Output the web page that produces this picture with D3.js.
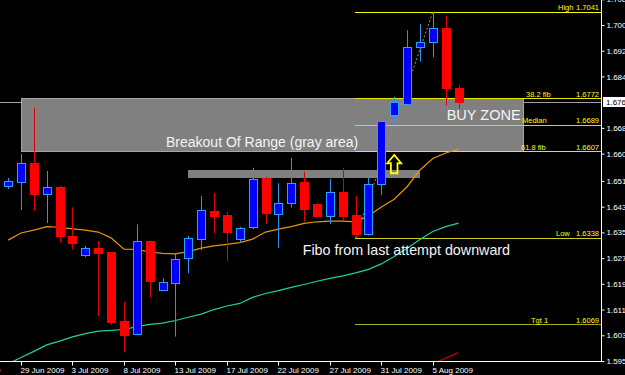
<!DOCTYPE html>
<html>
<head>
<meta charset="utf-8">
<script src="https://cdn.jsdelivr.net/npm/d3@7"></script>
<style>
body { margin: 0; background: #000; }
svg { display: block; }
text { font-family: "Liberation Sans", Arial, sans-serif; }
</style>
</head>
<body>
<svg id="chart" width="625" height="375"></svg>
<script>
// daily bars, broker feed with sunday bars
let dates = ["28 Jun","29 Jun","30 Jun","1 Jul","2 Jul","3 Jul","5 Jul","6 Jul","7 Jul","8 Jul",
    "9 Jul","10 Jul","12 Jul","13 Jul","14 Jul","15 Jul","16 Jul","17 Jul","19 Jul","20 Jul",
    "21 Jul","22 Jul","23 Jul","24 Jul","26 Jul","27 Jul","28 Jul","29 Jul","30 Jul","31 Jul",
    "2 Aug","3 Aug","4 Aug","5 Aug","6 Aug","7 Aug"];
let open = [1.6500,1.6511,1.6570,1.6473,1.6497,1.6345,1.6284,1.6306,1.6294,1.6079,
    1.6040,1.6329,1.6177,1.6197,1.6276,1.6334,1.6422,1.6409,1.6334,1.6373,
    1.6523,1.6411,1.6445,1.6511,1.6443,1.6407,1.6482,1.6409,1.6349,1.6505,
    1.6719,1.6753,1.6932,1.6946,1.6991,1.6804];
let high = [1.6524,1.6599,1.6743,1.6546,1.6499,1.6433,1.6313,1.6328,1.6294,1.6139,
    1.6380,1.6329,1.6212,1.6290,1.6344,1.6468,1.6478,1.6419,1.6372,1.6556,
    1.6528,1.6508,1.6587,1.6544,1.6447,1.6521,1.6556,1.6468,1.6527,1.6733,
    1.6777,1.6984,1.7003,1.7041,1.7029,1.6813];
let low = [1.6490,1.6425,1.6422,1.6384,1.6323,1.6302,1.6278,1.6095,1.6067,1.5982,
    1.6036,1.6152,1.6173,1.6031,1.6228,1.6300,1.6352,1.6266,1.6323,1.6365,
    1.6381,1.6307,1.6432,1.6388,1.6406,1.6381,1.6391,1.6338,1.6345,1.6471,
    1.6694,1.6694,1.6886,1.6900,1.6750,1.6740];
let close = [1.6516,1.6572,1.6475,1.6496,1.6345,1.6323,1.6306,1.6290,1.6077,1.6037,
    1.6328,1.6204,1.6200,1.6271,1.6337,1.6425,1.6407,1.6355,1.6370,1.6520,
    1.6414,1.6447,1.6508,1.6429,1.6407,1.6482,1.6406,1.6349,1.6505,1.6701,
    1.6760,1.6933,1.6947,1.6990,1.6805,1.6760];

// moving averages
let maFast = [1.6331,1.6353,1.6362,1.6373,1.6371,1.6366,1.6362,1.6356,1.6338,1.6303,
    1.6302,1.6294,1.6290,1.6288,1.6295,1.6306,1.6313,1.6318,1.6323,1.6334,
    1.6356,1.6365,1.6373,1.6383,1.6388,1.6390,1.6390,1.6388,1.6406,1.6434,
    1.6458,1.6497,1.6549,1.6585,1.6602,1.6614];
let maSlow = [1.5946,1.5966,1.5985,1.6005,1.6017,1.6030,1.6040,1.6048,1.6050,1.6053,
    1.6062,1.6069,1.6073,1.6081,1.6091,1.6101,1.6115,1.6126,1.6134,1.6153,
    1.6165,1.6174,1.6184,1.6193,1.6203,1.6212,1.6220,1.6229,1.6240,1.6257,
    1.6280,1.6306,1.6333,1.6358,1.6373,1.6384];
let maLong = [null,null,null,null,null,null,null,null,null,null,
    null,null,null,null,null,null,null,null,null,null,
    null,null,null,null,null,null,null,null,null,null,
    null,null,null,1.5946,1.5964,1.5981];

// axes
let priceTicks = [1.7080,1.7000,1.6920,1.6840,1.6680,1.6600,1.6515,1.6435,1.6355,1.6275,1.6195,1.6115,1.6035,1.5955];
let bidPrice = 1.6760;
let dateTicks = [-4,1,5,9,13,17,21,25,29,33];
let dateLabels = ["24 Jun 2009","29 Jun 2009","3 Jul 2009","8 Jul 2009","13 Jul 2009","17 Jul 2009",
    "22 Jul 2009","27 Jul 2009","31 Jul 2009","5 Aug 2009"];

// fibonacci from the 29 Jul low to the 5 Aug high
let fibNames = ["High","38.2 fib","Median","61.8 fib","Low","Tgt 1"];
let fibValues = [1.7041,1.6772,1.6689,1.6607,1.6338,1.6069];
let fibStartBar = 27;
let fibNameX = [558,526,522,521,556,531];
let fibColors = ["#ffff00","#e8e800","#d8d800","#e8e800","#d0d020","#a8a828"];

// drawn objects
let rangeBox = {from: 1, to: 40, top: 1.6772, bottom: 1.6607};
let breakoutBar = {from: 14, to: 32, top: 1.6549, bottom: 1.6524};
let arrowBar = 30, arrowTip = 1.6596, arrowHead = 1.6570, arrowBase = 1.6539;
let notes = ["Breakout Of Range (gray area)","BUY ZONE","Fibo from last attempt downward"];
let noteBar = [12.27, 34.08, 22.89];
let notePrice = [1.6621, 1.6705, 1.6285];
let noteSize = [14, 14.5, 14.3];

let width = 625, height = 375, plotR = 601, plotB = 361;

let x = d3.scaleLinear().domain([0, 35]).range([8.1, 458.55]);
let y = d3.scaleLinear().domain([1.5955, 1.7000]).range([361, 25]);
let px = v => Math.round(x(v));

let svg = d3.select("#chart");
svg.append("rect").attr("width", width).attr("height", height).attr("fill", "#000");
svg.append("defs").append("clipPath").attr("id", "plot")
    .append("rect").attr("width", plotR).attr("height", plotB);

let g = svg.append("g").attr("clip-path", "url(#plot)");

/* bid line */
g.append("line")
    .attr("x1", 0).attr("x2", plotR)
    .attr("y1", Math.round(y(bidPrice)) + 0.5).attr("y2", Math.round(y(bidPrice)) + 0.5)
    .attr("stroke", "#a0a0a0");

/* gray range box and breakout bar */
g.append("rect")
    .attr("x", px(rangeBox.from) + 0.5).attr("y", Math.round(y(rangeBox.top)) + 0.5)
    .attr("width", px(rangeBox.to) - px(rangeBox.from))
    .attr("height", Math.round(y(rangeBox.bottom)) - Math.round(y(rangeBox.top)))
    .attr("fill", "#808080").attr("stroke", "#a4a4a4");
g.append("rect")
    .attr("x", px(breakoutBar.from)).attr("y", Math.round(y(breakoutBar.top)))
    .attr("width", px(breakoutBar.to) - px(breakoutBar.from))
    .attr("height", Math.round(y(breakoutBar.bottom)) - Math.round(y(breakoutBar.top)))
    .attr("fill", "#808080");

/* fib levels */
let fib = g.selectAll(".fib").data(fibValues).enter().append("g").attr("class", "fib");
fib.append("line")
    .attr("x1", px(fibStartBar) - 1).attr("x2", plotR)
    .attr("y1", d => Math.round(y(d)) + 0.5).attr("y2", d => Math.round(y(d)) + 0.5)
    .attr("stroke", (d, i) => fibColors[i]);
fib.append("text")
    .attr("x", (d, i) => fibNameX[i]).attr("y", d => y(d) - 1.5)
    .attr("font-size", 7.5).attr("fill", "#ffff00")
    .text((d, i) => fibNames[i]);
fib.append("text")
    .attr("x", 599).attr("y", d => y(d) - 1.5)
    .attr("text-anchor", "end")
    .attr("font-size", 7.5).attr("fill", "#ffff00")
    .text(d => d.toFixed(4));

/* moving averages */
let maLine = d3.line()
    .defined(d => d != null)
    .x((d, i) => x(i)).y(d => y(d));
g.append("path").datum(maSlow).attr("d", maLine)
    .attr("fill", "none").attr("stroke", "#20d0a0").attr("stroke-width", 1.2);
g.append("path").datum(maFast).attr("d", maLine)
    .attr("fill", "none").attr("stroke", "#e89400").attr("stroke-width", 1.2);
g.append("path").datum(maLong).attr("d", maLine)
    .attr("fill", "none").attr("stroke", "#c00000").attr("stroke-width", 1.2);

/* fibo anchor line (dotted) */
g.append("line")
    .attr("x1", x(fibStartBar)).attr("y1", y(fibValues[4]))
    .attr("x2", x(33)).attr("y2", y(fibValues[0]))
    .attr("stroke", "#909090").attr("stroke-dasharray", "2,2");

/* candles */
let bars = dates.map((d, i) => ({i: i, o: open[i], h: high[i], l: low[i], c: close[i]}));
g.selectAll(".wick").data(bars).enter().append("line")
    .attr("class", "wick")
    .attr("x1", d => px(d.i) + 0.5).attr("x2", d => px(d.i) + 0.5)
    .attr("y1", d => y(d.h)).attr("y2", d => y(d.l))
    .attr("stroke", d => d.c >= d.o ? "#2a95f0" : "#e00000");
g.selectAll(".body").data(bars).enter().append("rect")
    .attr("class", "body")
    .attr("x", d => px(d.i) - 3.5)
    .attr("y", d => Math.round(y(Math.max(d.o, d.c))) + 0.5)
    .attr("width", 8)
    .attr("height", d => Math.max(1, Math.round(y(Math.min(d.o, d.c))) - Math.round(y(Math.max(d.o, d.c)))))
    .attr("fill", d => d.c >= d.o ? "#0000ff" : "#ff0000")
    .attr("stroke", d => d.c >= d.o ? "#2aa0ff" : "#ff0000");

/* notes */
g.selectAll(".note").data(notes).enter().append("text")
    .attr("class", "note")
    .attr("x", (d, i) => x(noteBar[i])).attr("y", (d, i) => y(notePrice[i]))
    .attr("font-size", (d, i) => noteSize[i])
    .attr("fill", "#f4f4f4")
    .text(d => d);

/* arrow */
let ax = x(arrowBar), tipY = y(arrowTip), headY = y(arrowHead), baseY = y(arrowBase);
g.append("path")
    .attr("d", "M" + ax + "," + tipY + "L" + (ax + 7) + "," + headY + "L" + (ax + 3.3) + "," + headY +
        "L" + (ax + 3.3) + "," + baseY + "L" + (ax - 3.3) + "," + baseY + "L" + (ax - 3.3) + "," + headY +
        "L" + (ax - 7) + "," + headY + "Z")
    .attr("fill", "none").attr("stroke", "#ffff00").attr("stroke-width", 1.8);

/* frame */
svg.append("line").attr("x1", plotR + 0.5).attr("x2", plotR + 0.5).attr("y1", 0).attr("y2", plotB + 0.5)
    .attr("stroke", "#fff");
svg.append("line").attr("x1", 0).attr("x2", plotR + 1).attr("y1", plotB + 0.5).attr("y2", plotB + 0.5)
    .attr("stroke", "#fff");

/* price axis (labels run off the right edge, as in the terminal) */
let yAxis = d3.axisRight(y).tickValues(priceTicks).tickSize(3).tickPadding(2).tickFormat(d3.format(".4f"));
let ya = svg.append("g").attr("transform", "translate(" + (plotR + 0.5) + ",0)").call(yAxis);
ya.select(".domain").remove();
ya.selectAll("line").attr("stroke", "#fff");
ya.selectAll("text").attr("fill", "#fff").attr("font-size", 8).attr("font-family", "Liberation Sans, Arial");

/* bid price label */
let by = Math.round(y(bidPrice));
svg.append("rect").attr("x", plotR + 2.5).attr("y", by - 4.5).attr("width", 30).attr("height", 9)
    .attr("fill", "#fff").attr("stroke", "#fff");
svg.append("text").attr("x", plotR + 5).attr("y", by + 3).attr("font-size", 8).attr("fill", "#000")
    .text(bidPrice.toFixed(4));

/* date axis */
let xAxis = d3.axisBottom(x).tickValues(dateTicks).tickSize(4).tickFormat((d, i) => dateLabels[i]);
let xa = svg.append("g").attr("transform", "translate(0," + (plotB + 0.5) + ")").call(xAxis);
xa.select(".domain").remove();
xa.selectAll(".tick").attr("transform", d => "translate(" + (px(d) + 0.5) + ",0)");
xa.selectAll("line").attr("stroke", "#fff");
xa.selectAll("text").attr("fill", "#fff").attr("font-size", 8).attr("font-family", "Liberation Sans, Arial")
    .attr("text-anchor", "start").attr("x", -1).attr("y", 5.5);
</script>
</body>
</html>
